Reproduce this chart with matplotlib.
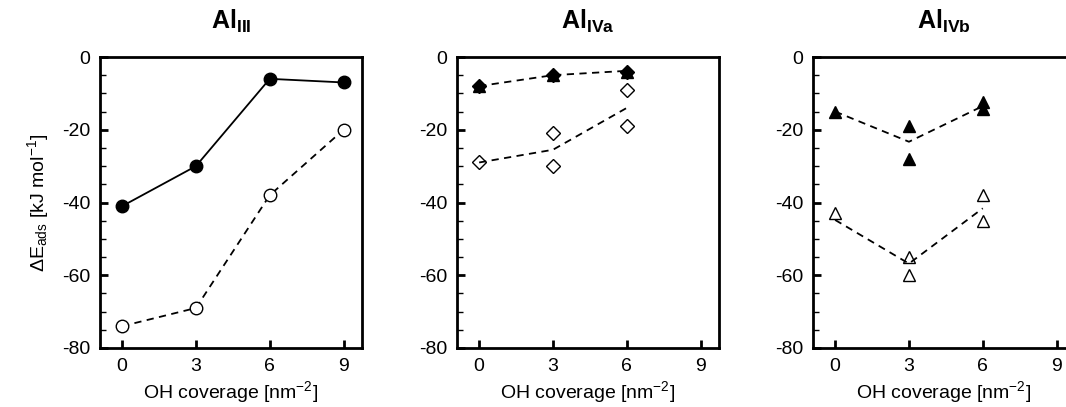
import matplotlib

matplotlib.use("Agg")
import matplotlib.pyplot as plt
from matplotlib.ticker import MultipleLocator

plt.rcParams["font.family"] = ["Liberation Sans", "DejaVu Sans"]
plt.rcParams["mathtext.fontset"] = "custom"
plt.rcParams["mathtext.rm"] = "Liberation Sans"
plt.rcParams["mathtext.it"] = "Liberation Sans"
plt.rcParams["mathtext.bf"] = "Liberation Sans:bold"
plt.rcParams["axes.unicode_minus"] = False

# Al_III
x_iii = [0, 3, 6, 9]
iii_filled = [-41, -30, -6, -7]
iii_open = [-74, -69, -38, -20]

# Al_IVa
iva_filled_x = [0, 3, 6]
iva_filled_diamond = [-8, -5, -4]
iva_filled_triangle = [-8, -5, -4]
iva_filled_line = [-8, -5, -3.8]
iva_open_x = [0, 3, 3, 6, 6]
iva_open = [-29, -21, -30, -9, -19]
iva_open_line_x = [0, 3, 6]
iva_open_line = [-29, -25.5, -14]

# Al_IVb
ivb_x = [0, 3, 3, 6, 6]
ivb_filled = [-15, -19, -28, -12.5, -14.2]
ivb_open = [-43, -55, -60, -38, -45]
ivb_line_x = [0, 3, 6]
ivb_filled_line = [-15, -23.3, -13.5]
ivb_open_line = [-44.8, -56.8, -41.6]

titles = [r"$\mathbf{Al_{III}}$", r"$\mathbf{Al_{IVa}}$", r"$\mathbf{Al_{IVb}}$"]
xticks = [0, 3, 6, 9]

fig = plt.figure(figsize=(10.66, 4.07), dpi=100)
W, H = 1066, 407
lefts = [100, 457, 813]
axes = [fig.add_axes([l / W, 1 - 348 / H, 262 / W, 291 / H]) for l in lefts]

for ax, title in zip(axes, titles):
    ax.set_xlim(-0.9, 9.75)
    ax.set_ylim(-80, 0)
    ax.set_xticks(xticks)
    ax.yaxis.set_major_locator(MultipleLocator(20))
    ax.yaxis.set_minor_locator(MultipleLocator(5))
    ax.tick_params(axis="both", which="major", direction="in", length=6, width=2,
                   labelsize=14, pad=7)
    ax.tick_params(axis="y", which="minor", direction="in", length=4, width=1)
    ax.tick_params(top=False, right=False)
    for s in ax.spines.values():
        s.set_linewidth(2)
    ax.set_xlabel("OH coverage [nm$^{-2}$]", fontsize=14, labelpad=3)
    ax.set_title(title, fontsize=18, pad=20)

axes[0].set_ylabel(r"$\Delta$E$_{\rm ads}$ [kJ mol$^{-1}$]", fontsize=14, labelpad=8)

ms = 9
dash = (0, (4, 3))
ax = axes[0]
ax.plot(x_iii, iii_filled, "-", color="black", lw=1.3, marker="o", ms=ms,
        mfc="black", mec="black")
ax.plot(x_iii, iii_open, ls=dash, color="black", lw=1.3, marker="o", ms=ms,
        mfc="white", mec="black", mew=1)

ax = axes[1]
ax.plot(iva_filled_x, iva_filled_line, ls=dash, color="black", lw=1.3)
ax.plot(iva_filled_x, iva_filled_triangle, "^", ms=ms, color="black", ls="none")
ax.plot(iva_filled_x, iva_filled_diamond, "D", ms=7.5, color="black", ls="none")
ax.plot(iva_open_line_x, iva_open_line, ls=dash, color="black", lw=1.3)
ax.plot(iva_open_x, iva_open, "D", ms=7.5, mfc="none", mec="black", mew=1, ls="none")

ax = axes[2]
ax.plot(ivb_line_x, ivb_filled_line, ls=dash, color="black", lw=1.3)
ax.plot(ivb_x, ivb_filled, "^", ms=ms, color="black", ls="none")
ax.plot(ivb_line_x, ivb_open_line, ls=dash, color="black", lw=1.3)
ax.plot(ivb_x, ivb_open, "^", ms=ms, mfc="none", mec="black", mew=1, ls="none")

fig.savefig("out.png", dpi=100)
